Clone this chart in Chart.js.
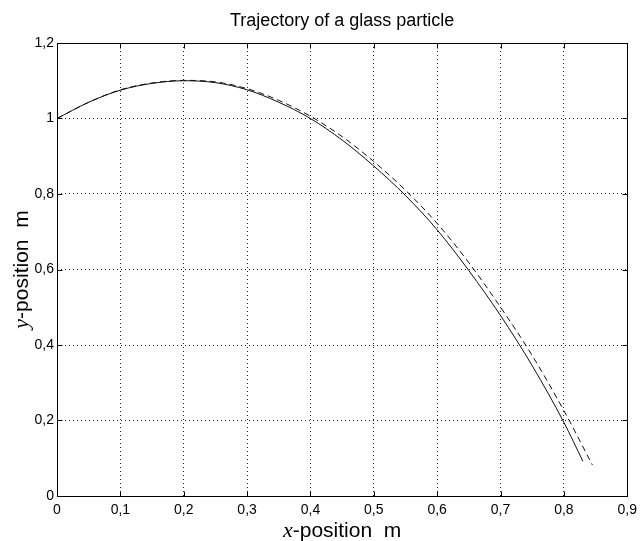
<!DOCTYPE html>
<html>
<head>
<meta charset="utf-8">
<script src="https://cdn.jsdelivr.net/npm/chart.js@4.4.0/dist/chart.umd.min.js"></script>
<style>
  html, body { margin: 0; padding: 0; background: #fff; }
</style>
</head>
<body>
<canvas id="myChart" width="643" height="541"></canvas>
<script>
// trajectory (x in m, y in m)
const solidX = [0, 0.05, 0.1, 0.15, 0.2, 0.25, 0.3, 0.35, 0.4, 0.45, 0.5, 0.55, 0.6, 0.65, 0.7, 0.75, 0.8, 0.83];
const solidY = [1.0, 1.043, 1.075, 1.093, 1.1, 1.095, 1.076, 1.043, 1.0, 0.943, 0.874, 0.796, 0.705, 0.597, 0.478, 0.345, 0.195, 0.092];
const dashedX = [0, 0.05, 0.1, 0.15, 0.2, 0.25, 0.3, 0.35, 0.4, 0.45, 0.5, 0.55, 0.6, 0.65, 0.7, 0.75, 0.8, 0.845];
const dashedY = [1.0, 1.043, 1.076, 1.094, 1.101, 1.097, 1.079, 1.048, 1.006, 0.952, 0.886, 0.810, 0.722, 0.618, 0.500, 0.372, 0.226, 0.082];

const xTickValues = [0, 0.1, 0.2, 0.3, 0.4, 0.5, 0.6, 0.7, 0.8, 0.9];
const xTickLabels = ['0', '0,1', '0,2', '0,3', '0,4', '0,5', '0,6', '0,7', '0,8', '0,9'];
const yTickValues = [0, 0.2, 0.4, 0.6, 0.8, 1, 1.2];
const yTickLabels = ['0', '0,2', '0,4', '0,6', '0,8', '1', '1,2'];

const toPoints = (xs, ys) => xs.map((x, i) => ({ x: x, y: ys[i] }));
const px = v => Math.round(v) + 0.5;

// box round the plot, inward ticks on all sides, axis titles with italic letter
const matlabBox = {
  id: 'matlabBox',
  afterDraw(chart) {
    const { ctx, chartArea: a, scales } = chart;
    const L = px(a.left), R = px(a.right), T = px(a.top), B = px(a.bottom);
    ctx.save();
    ctx.strokeStyle = '#000';
    ctx.lineWidth = 1;
    ctx.setLineDash([]);
    ctx.strokeRect(L, T, R - L, B - T);
    ctx.beginPath();
    xTickValues.forEach(v => {
      const p = px(scales.x.getPixelForValue(v));
      ctx.moveTo(p, B); ctx.lineTo(p, B - 5);
      ctx.moveTo(p, T); ctx.lineTo(p, T + 5);
    });
    yTickValues.forEach(v => {
      const p = px(scales.y.getPixelForValue(v));
      ctx.moveTo(L, p); ctx.lineTo(L + 5, p);
      ctx.moveTo(R, p); ctx.lineTo(R - 5, p);
    });
    ctx.stroke();

    // axis titles
    const italic = 'italic 22px "Liberation Serif"';
    const plain = '21px "Liberation Sans"';
    const drawLabel = (letter, rest) => {
      ctx.font = italic;
      const w1 = ctx.measureText(letter).width;
      ctx.font = plain;
      const w2 = ctx.measureText(rest).width;
      const start = -(w1 + w2) / 2;
      ctx.font = italic;
      ctx.fillText(letter, start, 0);
      ctx.font = plain;
      ctx.fillText(rest, start + w1, 0);
    };
    ctx.fillStyle = '#000';
    ctx.textAlign = 'left';
    ctx.textBaseline = 'alphabetic';
    ctx.save();
    ctx.translate((a.left + a.right) / 2, 537);
    drawLabel('x', '-position  m');
    ctx.restore();
    ctx.save();
    ctx.translate(28, (a.top + a.bottom) / 2);
    ctx.rotate(-Math.PI / 2);
    drawLabel('y', '-position  m');
    ctx.restore();
    ctx.restore();
  }
};

const gridOpts = { color: '#222', lineWidth: 1, drawTicks: false };
const borderOpts = { display: false, dash: [1, 3] };
const tickFont = { family: '"Liberation Sans"', size: 14 };

new Chart(document.getElementById('myChart'), {
  type: 'line',
  data: {
    datasets: [
      {
        data: toPoints(solidX, solidY),
        borderColor: '#111',
        borderWidth: 1,
        pointRadius: 0,
        cubicInterpolationMode: 'monotone',
        fill: false
      },
      {
        data: toPoints(dashedX, dashedY),
        borderColor: '#111',
        borderWidth: 1,
        borderDash: [6, 4],
        pointRadius: 0,
        cubicInterpolationMode: 'monotone',
        fill: false
      }
    ]
  },
  options: {
    responsive: false,
    animation: false,
    layout: { padding: { left: 0, right: 10, top: 0, bottom: 0 } },
    plugins: {
      legend: { display: false },
      tooltip: { enabled: false },
      title: {
        display: true,
        fullSize: false,
        text: 'Trajectory of a glass particle',
        color: '#000',
        font: { family: '"Liberation Sans"', size: 18, weight: 'normal' },
        padding: { top: 10, bottom: 11.4 }
      }
    },
    scales: {
      x: {
        type: 'linear',
        min: 0,
        max: 0.9,
        grid: gridOpts,
        border: borderOpts,
        afterBuildTicks: s => { s.ticks = xTickValues.map(v => ({ value: v })); },
        afterFit: s => { s.height = 45; },
        ticks: {
          color: '#000',
          font: tickFont,
          padding: 6,
          maxRotation: 0,
          callback: (v, i) => xTickLabels[i]
        }
      },
      y: {
        type: 'linear',
        min: 0,
        max: 1.2,
        grid: gridOpts,
        border: borderOpts,
        afterBuildTicks: s => { s.ticks = yTickValues.map(v => ({ value: v })); },
        afterFit: s => { s.width = 57; },
        ticks: {
          color: '#000',
          font: tickFont,
          padding: 3,
          callback: (v, i) => yTickLabels[i]
        }
      }
    }
  },
  plugins: [matlabBox]
});
</script>
</body>
</html>
